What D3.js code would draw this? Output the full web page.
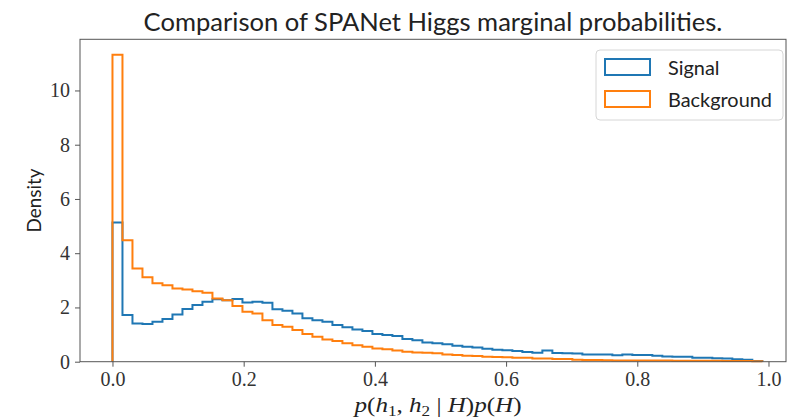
<!DOCTYPE html>
<html>
<head>
<meta charset="utf-8">
<script src="https://cdn.jsdelivr.net/npm/d3@7"></script>
<style>
  body { margin: 0; background: #fff; }
  svg { display: block; }
</style>
</head>
<body>
<div id="chart"></div>
<script>
(function() {
  'use strict';

  // histogram bins: 65 equal bins starting at 0
  var binStart = 0;
  var binWidth = 0.01524;

  // densities per bin
  var signal = [
    5.13, 1.72, 1.41, 1.39, 1.47, 1.57, 1.74, 1.94, 2.09, 2.21,
    2.30, 2.27, 2.31, 2.18, 2.21, 2.17, 1.93, 1.88, 1.78, 1.60,
    1.53, 1.47, 1.35, 1.27, 1.19, 1.13, 1.02, 0.98, 0.95, 0.84,
    0.79, 0.71, 0.68, 0.64, 0.59, 0.55, 0.52, 0.48, 0.44, 0.42,
    0.39, 0.36, 0.33, 0.41, 0.32, 0.31, 0.30, 0.27, 0.27, 0.27,
    0.24, 0.27, 0.25, 0.25, 0.22, 0.19, 0.18, 0.18, 0.15, 0.15,
    0.13, 0.12, 0.09, 0.07, 0.03
  ];
  var background = [
    11.32, 4.48, 3.44, 3.11, 2.89, 2.82, 2.70, 2.66, 2.60, 2.54,
    2.33, 2.27, 2.05, 1.84, 1.78, 1.53, 1.35, 1.29, 1.17, 1.02,
    0.92, 0.82, 0.76, 0.68, 0.61, 0.55, 0.49, 0.46, 0.41, 0.37,
    0.34, 0.33, 0.31, 0.27, 0.25, 0.22, 0.21, 0.18, 0.17, 0.16,
    0.15, 0.15, 0.12, 0.12, 0.10, 0.10, 0.07, 0.06, 0.06, 0.05,
    0.04, 0.04, 0.04, 0.04, 0.04, 0.04, 0.035, 0.035, 0.035, 0.035,
    0.035, 0.03, 0.03, 0.03, 0.02
  ];

  var seriesNames = ['Signal', 'Background'];
  var seriesColors = ['#1f77b4', '#ff7f0e'];
  var xTicks = [0, 0.2, 0.4, 0.6, 0.8, 1.0];
  var yTicks = [0, 2, 4, 6, 8, 10];
  var titleText = 'Comparison of SPANet Higgs marginal probabilities.';

  var width = 802, height = 420;
  var box = { left: 80, right: 786, top: 39.3, bottom: 361.7 };

  var svg = d3.select('#chart').append('svg').attr('width', width).attr('height', height);

  var x = d3.scaleLinear().domain([-0.0495, 1.0267]).range([box.left, box.right]);
  var yMax = d3.max(background) * 1.05;
  var y = d3.scaleLinear().domain([0, yMax]).range([box.bottom, box.top]);

  var serif = '"Liberation Serif", "DejaVu Serif", serif';
  var sans = 'Lato, "Noto Sans", sans-serif';

  // fit a text node to a target width by adjusting font size
  function fitWidth(sel, target) {
    var fs = parseFloat(sel.attr('font-size'));
    var w = sel.node().getComputedTextLength();
    if (w > 0) sel.attr('font-size', (fs * target / w).toFixed(2));
  }

  // step outlines (histtype='step')
  var line = d3.line()
    .x(function(d) { return x(d[0]); })
    .y(function(d) { return y(d[1]); })
    .curve(d3.curveStepAfter);

  function stepPoints(vals) {
    var pts = [[binStart, 0]];
    vals.forEach(function(v, i) { pts.push([binStart + i * binWidth, v]); });
    pts.push([binStart + vals.length * binWidth, 0]);
    return pts;
  }

  [signal, background].forEach(function(vals, i) {
    svg.append('path')
      .attr('d', line(stepPoints(vals)))
      .attr('fill', 'none')
      .attr('stroke', seriesColors[i])
      .attr('stroke-width', 2)
      .attr('stroke-linejoin', 'miter');
  });

  // axes
  var xAxis = svg.append('g').attr('transform', 'translate(0,' + box.bottom + ')')
    .call(d3.axisBottom(x).tickValues(xTicks).tickFormat(d3.format('.1f')).tickSize(5).tickPadding(5));
  var yAxis = svg.append('g').attr('transform', 'translate(' + box.left + ',0)')
    .call(d3.axisLeft(y).tickValues(yTicks).tickFormat(d3.format('d')).tickSize(5).tickPadding(5));
  [xAxis, yAxis].forEach(function(a) {
    a.select('.domain').remove();
    a.selectAll('.tick line').attr('stroke', '#555').attr('stroke-width', 1);
    a.selectAll('.tick text').attr('fill', '#333').attr('font-family', serif).attr('font-size', 20);
  });
  xAxis.selectAll('.tick text').attr('dy', '0.71em');

  svg.append('rect')
    .attr('x', box.left).attr('y', box.top)
    .attr('width', box.right - box.left).attr('height', box.bottom - box.top)
    .attr('fill', 'none').attr('stroke', '#555').attr('stroke-width', 1);

  // title
  var title = svg.append('text')
    .attr('x', (box.left + box.right) / 2).attr('y', 31)
    .attr('text-anchor', 'middle').attr('font-family', sans).attr('font-size', 22)
    .attr('fill', '#222').text(titleText);
  fitWidth(title, 579);

  // y label
  var ylab = svg.append('text')
    .attr('transform', 'translate(41,' + ((box.top + box.bottom) / 2) + ') rotate(-90)')
    .attr('text-anchor', 'middle').attr('font-family', sans).attr('font-size', 20)
    .attr('fill', '#222').text('Density');
  fitWidth(ylab, 64);

  // x label: p(h1, h2 | H)p(H)
  var xlab = svg.append('text')
    .attr('x', 438).attr('y', 412)
    .attr('text-anchor', 'middle').attr('font-family', serif).attr('font-size', 22)
    .attr('fill', '#222');
  xlab.append('tspan').attr('font-style', 'italic').text('p');
  xlab.append('tspan').text('(');
  xlab.append('tspan').attr('font-style', 'italic').text('h');
  xlab.append('tspan').attr('font-size', 15).attr('dy', 4).text('1');
  xlab.append('tspan').attr('dy', -4).text(', ');
  xlab.append('tspan').attr('font-style', 'italic').text('h');
  xlab.append('tspan').attr('font-size', 15).attr('dy', 4).text('2');
  xlab.append('tspan').attr('dy', -4).text('  |  ');
  xlab.append('tspan').attr('font-style', 'italic').text('H');
  xlab.append('tspan').text(')');
  xlab.append('tspan').attr('font-style', 'italic').text('p');
  xlab.append('tspan').text('(');
  xlab.append('tspan').attr('font-style', 'italic').text('H');
  xlab.append('tspan').text(')');
  var xw = xlab.node().getComputedTextLength();
  if (xw > 0) xlab.attr('transform', 'translate(438,0) scale(' + (167 / xw).toFixed(3) + ',1) translate(-438,0)');

  // legend
  var legend = svg.append('g');
  legend.append('rect')
    .attr('x', 596).attr('y', 50).attr('width', 187).attr('height', 70)
    .attr('rx', 4).attr('fill', '#fff').attr('fill-opacity', 0.8)
    .attr('stroke', '#d6d6d6').attr('stroke-width', 1);
  var labels = [];
  seriesNames.forEach(function(name, i) {
    var yy = 59 + i * 32;
    legend.append('rect')
      .attr('x', 605).attr('y', yy).attr('width', 45).attr('height', 16)
      .attr('fill', 'none').attr('stroke', seriesColors[i]).attr('stroke-width', 2);
    labels.push(legend.append('text')
      .attr('x', 668).attr('y', yy + 16)
      .attr('font-family', sans).attr('font-size', 22).attr('fill', '#222').text(name));
  });
  fitWidth(labels[1], 104);
  labels[0].attr('font-size', labels[1].attr('font-size'));
})();
</script>
</body>
</html>
